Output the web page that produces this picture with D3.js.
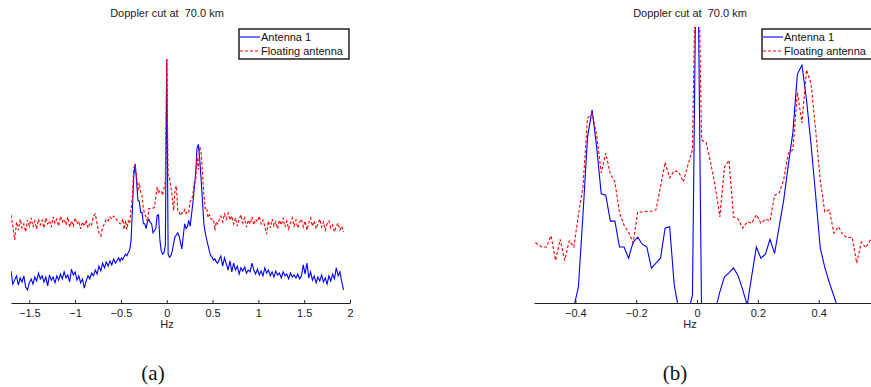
<!DOCTYPE html>
<html>
<head>
<meta charset="utf-8">
<script src="https://cdnjs.cloudflare.com/ajax/libs/d3/7.8.5/d3.min.js"></script>
<title>Doppler cut</title>
<style>
  body { margin: 0; background: #fff; font-family: "Liberation Sans", Arial, sans-serif; }
  .axis text { font-size: 11px; fill: #222; font-family: "Liberation Sans", Arial, sans-serif; }
  .axis path, .axis line { stroke: #222; }
  .lbl { font-size: 11px; fill: #222; white-space: pre; }
  .leg { font-size: 11px; fill: #111; }
  .cap { font-family: "Liberation Serif", "DejaVu Serif", serif; font-size: 21px; fill: #111; }
</style>
</head>
<body>
<script>
// frequency bins (Hz): coarse outside, fine around the centre
var outerStep = 0.02, centreStep = 0.015;
var leftStart = -1.70, centreStart = -0.54, rightStart = 0.59;

// Antenna 1 (dB)
var blueOuterLeft = [-69.5,-73.8,-72.5,-71.1,-74.1,-71.8,-73.1,-71.1,-74.8,-75.7,
  -73.4,-72.1,-73.8,-71.5,-72.8,-70.2,-72.1,-71.1,-73.1,-71.5,
  -74.4,-70.8,-72.5,-71.5,-73.4,-71.1,-72.5,-70.5,-72.1,-69.8,
  -71.8,-70.8,-73.1,-68.9,-70.8,-69.8,-72.5,-71.1,-73.4,-72.1,
  -75.1,-72.8,-71.1,-72.1,-70.2,-71.1,-69.2,-70.5,-67.9,-69.5,
  -66.9,-68.5,-66.6,-67.9,-66.2,-67.5,-65.6,-66.9];
var blueCentre = [-66.0,-65.2,-66.4,-65.2,-65.8,-64.8,-64.0,-64.5,-63.4,-62.6,
  -59.7,-49.4,-38.3,-34.4,-39.7,-46.4,-46.6,-50.3,-50.3,-54.0,
  -54.0,-55.6,-53.3,-52.6,-53.6,-54.0,-57.0,-56.3,-55.6,-51.3,
  -51.1,-59.4,-63.0,-64.0,-63.5,-60.9,0.0,-64.0,-65.0,-64.5,
  -63.0,-60.4,-58.3,-57.7,-57.0,-58.1,-60.1,-62.3,-58.1,-54.0,
  -55.6,-55.0,-52.9,-54.9,-51.1,-47.3,-42.3,-37.7,-29.3,-28.0,
  -33.0,-39.4,-46.6,-54.1,-56.9,-59.1,-61.0,-63.0,-64.5,-65.0,
  -66.0,-65.5,-66.5,-67.0,-66.0];
var blueOuterRight = [-64.6,-67.9,-65.2,-67.2,-69.2,-66.2,-69.8,-66.9,-69.2,-67.9,
  -70.5,-68.5,-69.5,-68.2,-70.2,-69.2,-69.8,-66.9,-69.2,-70.5,
  -68.9,-70.8,-69.5,-71.1,-68.5,-70.2,-69.2,-71.1,-69.8,-71.5,
  -69.5,-70.8,-70.2,-71.8,-69.8,-71.1,-70.5,-72.1,-70.2,-71.5,
  -70.8,-71.8,-70.5,-72.1,-71.1,-67.5,-70.5,-66.9,-71.8,-69.8,
  -72.5,-71.1,-73.4,-71.5,-72.8,-70.8,-73.1,-71.8,-73.8,-71.1,
  -72.8,-70.5,-72.1,-68.5,-71.1,-69.8,-73.1,-75.7];

// Floating antenna (dB)
var redOuterLeft = [-51.1,-54.8,-59.3,-53.4,-56.1,-52.5,-55.4,-54.1,-56.7,-52.8,
  -54.8,-52.1,-55.1,-53.1,-55.7,-52.5,-54.4,-52.8,-55.4,-52.1,
  -54.1,-53.1,-55.1,-51.8,-53.8,-52.5,-54.8,-51.5,-53.4,-52.5,
  -54.4,-51.8,-55.1,-53.1,-54.8,-52.1,-54.1,-53.1,-55.7,-53.4,
  -54.8,-52.8,-55.4,-53.8,-54.4,-51.5,-50.8,-54.1,-57.0,-58.0,
  -55.1,-54.1,-52.5,-53.1,-51.8,-52.5,-51.5,-52.1];
var redCentre = [-53.0,-53.6,-54.0,-54.0,-52.4,-55.9,-52.9,-55.9,-53.1,-54.0,
  -49.4,-45.4,-35.6,-34.9,-38.0,-43.4,-40.6,-43.6,-44.7,-49.1,
  -50.9,-51.9,-53.4,-49.0,-49.0,-48.9,-48.9,-48.7,-45.4,-41.9,
  -44.1,-43.1,-43.3,-44.7,-42.3,-40.1,0.0,-38.7,-39.1,-42.0,
  -45.4,-49.7,-42.6,-41.6,-49.7,-50.0,-51.3,-50.4,-50.6,-49.4,
  -50.6,-50.0,-50.3,-46.6,-46.3,-44.4,-40.6,-40.1,-31.9,-36.3,
  -28.7,-30.7,-37.3,-44.4,-49.0,-48.7,-52.0,-51.1,-52.3,-52.7,
  -52.6,-56.3,-53.3,-54.1,-53.0];
var redOuterRight = [-51.5,-53.4,-50.8,-52.5,-50.5,-52.8,-51.5,-54.1,-52.1,-54.8,
  -52.5,-51.1,-53.8,-52.1,-55.1,-52.8,-54.1,-51.8,-54.4,-52.5,
  -53.4,-51.5,-54.1,-52.8,-54.8,-57.4,-53.1,-55.4,-52.5,-54.8,
  -53.4,-55.7,-52.8,-54.4,-52.1,-55.1,-53.1,-55.7,-53.8,-52.1,
  -54.8,-52.8,-55.4,-53.4,-52.5,-55.1,-53.1,-56.1,-53.8,-52.1,
  -54.8,-53.1,-55.7,-54.1,-52.5,-55.1,-53.4,-56.1,-54.1,-53.1,
  -55.4,-54.4,-56.7,-54.8,-53.8,-56.1,-54.8,-56.7];

var seriesNames = ["Antenna 1", "Floating antenna"];
var leftTicks = [-1.5, -1, -0.5, 0, 0.5, 1, 1.5, 2];
var rightTicks = [-0.4, -0.2, 0, 0.2, 0.4];
var titleText = "Doppler cut at  70.0 km";

function build(outL, centre, outR) {
  var pts = [];
  outL.forEach(function(v, k) { pts.push([leftStart + outerStep * k, v]); });
  centre.forEach(function(v, k) { pts.push([centreStart + centreStep * k, v]); });
  outR.forEach(function(v, k) { pts.push([rightStart + outerStep * k, v]); });
  return pts;
}
var blue = build(blueOuterLeft, blueCentre, blueOuterRight);
var red = build(redOuterLeft, redCentre, redOuterRight);

var svg = d3.select("body").append("svg")
    .attr("width", 871)
    .attr("height", 387);

var axisY = 303;
var panels = [
  { id: "a", xDom: [-1.7, 2], xRange: [11, 350], yDom: [-80, 0], top: 59, clipTop: 0,
    ticks: leftTicks, cx: 167, legX: 239, cap: "(a)", capX: 153 },
  { id: "b", xDom: [-0.536, 0.572], xRange: [534, 871], yDom: [-62, -22.57], top: 27, clipTop: 27,
    ticks: rightTicks, cx: 690, legX: 762, cap: "(b)", capX: 675 }
];

panels.forEach(function(p) {
  var x = d3.scaleLinear().domain(p.xDom).range(p.xRange);
  var y = d3.scaleLinear().domain(p.yDom).range([axisY, p.top]);

  svg.append("clipPath").attr("id", "clip-" + p.id)
    .append("rect")
    .attr("x", p.xRange[0]).attr("y", p.clipTop)
    .attr("width", p.xRange[1] - p.xRange[0])
    .attr("height", axisY - p.clipTop);

  var line = d3.line().x(function(d) { return x(d[0]); }).y(function(d) { return y(d[1]); });
  var g = svg.append("g").attr("clip-path", "url(#clip-" + p.id + ")");
  g.append("path").datum(blue)
    .attr("d", line).attr("fill", "none")
    .attr("stroke", "#0000ff").attr("stroke-width", 1.1);
  g.append("path").datum(red)
    .attr("d", line).attr("fill", "none")
    .attr("stroke", "#ff0000").attr("stroke-width", 1.1)
    .attr("stroke-dasharray", "3,2");

  svg.append("g").attr("class", "axis")
    .attr("transform", "translate(0," + axisY + ")")
    .call(d3.axisBottom(x).tickValues(p.ticks)
      .tickSizeInner(-3).tickSizeOuter(0).tickPadding(6)
      .tickFormat(d3.format("")));

  svg.append("text").attr("class", "lbl")
    .attr("x", p.cx).attr("y", 328).attr("text-anchor", "middle").text("Hz");
  svg.append("text").attr("class", "lbl")
    .attr("x", p.cx).attr("y", 17).attr("text-anchor", "middle").text(titleText);

  // legend
  var lg = svg.append("g").attr("transform", "translate(" + p.legX + ",29)");
  lg.append("rect").attr("width", 110).attr("height", 30)
    .attr("fill", "#fff").attr("stroke", "#000").attr("stroke-width", 1.3);
  lg.append("line").attr("x1", 1).attr("x2", 21).attr("y1", 8).attr("y2", 8)
    .attr("stroke", "#0000ff").attr("stroke-width", 1.1);
  lg.append("line").attr("x1", 1).attr("x2", 21).attr("y1", 22).attr("y2", 22)
    .attr("stroke", "#ff0000").attr("stroke-width", 1.1).attr("stroke-dasharray", "3,2");
  lg.append("text").attr("class", "leg").attr("x", 22).attr("y", 12).text(seriesNames[0]);
  lg.append("text").attr("class", "leg").attr("x", 22).attr("y", 26).text(seriesNames[1]);

  svg.append("text").attr("class", "cap")
    .attr("x", p.capX).attr("y", 380).attr("text-anchor", "middle").text(p.cap);
});
</script>
</body>
</html>
